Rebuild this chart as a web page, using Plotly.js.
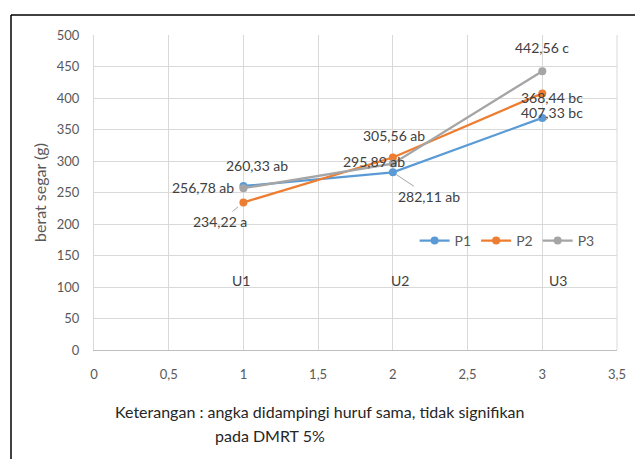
<!DOCTYPE html>
<html>
<head>
<meta charset="utf-8">
<script src="https://cdn.plot.ly/plotly-3.0.1.min.js"></script>
<style>html,body{margin:0;padding:0;background:#fff;}#chart{width:635px;height:459px;}</style>
</head>
<body>
<div id="chart"></div>
<script>
var xVals = [1, 2, 3];
var p1 = [260.33, 282.11, 368.44];
var p2 = [234.22, 305.56, 407.33];
var p3 = [256.78, 295.89, 442.56];
var seriesNames = ['P1', 'P2', 'P3'];
var seriesColors = ['#5B9BD5', '#ED7D31', '#A5A5A5'];
var p1Labels = ['260,33 ab', '282,11 ab', '368,44 bc'];
var p2Labels = ['234,22 a', '305,56 ab', '407,33 bc'];
var p3Labels = ['256,78 ab', '295,89 ab', '442,56 c'];
var groupLabels = ['U1', 'U2', 'U3'];
var groupLabelY = 110;
var yTitle = 'berat segar (g)';
var caption1 = 'Keterangan : angka didampingi huruf sama, tidak signifikan';
var caption2 = 'pada DMRT 5%';

var FONT = 'Lato, "Open Sans", sans-serif';
var series = [p1, p2, p3];
var traces = series.map(function (s, i) {
  return {
    x: xVals, y: s, type: 'scatter', mode: 'lines+markers', name: seriesNames[i],
    line: {color: seriesColors[i], width: 2.25},
    marker: {color: seriesColors[i], size: 8}
  };
});

var lblFont = {family: FONT, size: 14, color: '#404040'};
function lab(x, y, text, xs, ys, extra) {
  var a = {x: x, y: y, xref: 'x', yref: 'y', text: text, showarrow: false,
    xshift: xs, yshift: ys, font: lblFont};
  if (extra) for (var k in extra) a[k] = extra[k];
  return a;
}
var annotations = [
  lab(xVals[0], p1[0], p1Labels[0], 14, 20),
  lab(xVals[0], p3[0], p3Labels[0], -7, 1, {xanchor: 'right'}),
  {x: xVals[0], y: p2[0], xref: 'x', yref: 'y', text: p2Labels[0], showarrow: true,
    arrowhead: 0, arrowwidth: 1, arrowcolor: '#A6A6A6', ax: -23, ay: 19, standoff: 7, font: lblFont},
  lab(xVals[1], p3[1], p3Labels[1], -19, 2),
  lab(xVals[1], p2[1], p2Labels[1], 1, 22),
  {x: xVals[1], y: p1[1], xref: 'x', yref: 'y', text: p1Labels[1], showarrow: true,
    arrowhead: 0, arrowwidth: 1, arrowcolor: '#A6A6A6', ax: 36, ay: 24, standoff: 4, font: lblFont},
  lab(xVals[2], p3[2], p3Labels[2], 0, 24),
  lab(xVals[2], p1[2], p1Labels[2], 10, 20),
  lab(xVals[2], p2[2], p2Labels[2], 10, -19),
  lab(xVals[0], groupLabelY, groupLabels[0], -2, 0),
  lab(xVals[1], groupLabelY, groupLabels[1], 7, 0),
  lab(xVals[2], groupLabelY, groupLabels[2], 16, 0),
  {x: 0.0363, y: -0.195, xref: 'paper', yref: 'paper', xanchor: 'left', yanchor: 'middle',
    text: caption1, showarrow: false, font: {family: FONT, size: 16, color: '#262626'}},
  {x: 0.2275, y: -0.272, xref: 'paper', yref: 'paper', xanchor: 'left', yanchor: 'middle',
    text: caption2, showarrow: false, font: {family: FONT, size: 16, color: '#262626'}}
];

var layout = {
  width: 635, height: 459,
  margin: {l: 94, r: 18, t: 35, b: 109},
  paper_bgcolor: '#fff', plot_bgcolor: '#fff',
  font: {family: FONT, color: '#595959', size: 13},
  showlegend: true,
  legend: {orientation: 'h', x: 0.613, y: 0.346, xanchor: 'left', yanchor: 'middle',
    bgcolor: 'rgba(0,0,0,0)', font: {family: FONT, size: 14, color: '#595959'}, tracegroupgap: 0},
  xaxis: {range: [0, 3.5], dtick: 0.5, tick0: 0, showgrid: true, gridcolor: '#D9D9D9', gridwidth: 1,
    zeroline: false, showline: true, linecolor: '#BFBFBF', linewidth: 1, ticks: 'outside', ticklen: 12,
    tickcolor: 'rgba(0,0,0,0)', tickfont: {family: FONT, size: 13, color: '#595959'}},
  yaxis: {range: [0, 500], dtick: 50, tick0: 0, showgrid: true, gridcolor: '#D9D9D9', gridwidth: 1,
    zeroline: false, showline: true, linecolor: '#D9D9D9', linewidth: 1, ticks: 'outside', ticklen: 11,
    tickcolor: 'rgba(0,0,0,0)', tickfont: {family: FONT, size: 13, color: '#595959'},
    title: {text: yTitle, font: {family: FONT, size: 16, color: '#595959'}, standoff: 6}},
  separators: ', ',
  annotations: annotations,
  shapes: [
    {type: 'line', xref: 'paper', yref: 'paper', x0: -0.1587, x1: -0.1587, y0: 1.0635, y1: -0.36,
      line: {color: '#000', width: 1.5}},
    {type: 'line', xref: 'paper', yref: 'paper', x0: -0.1587, x1: 1.04, y0: 1.0635, y1: 1.0635,
      line: {color: '#000', width: 1.5}},
    {type: 'line', xref: 'paper', yref: 'paper', x0: 1, x1: 1, y0: 0, y1: 1,
      line: {color: '#D9D9D9', width: 1}}
  ]
};
Plotly.newPlot('chart', traces, layout, {displayModeBar: false, staticPlot: true});
</script>
</body>
</html>
